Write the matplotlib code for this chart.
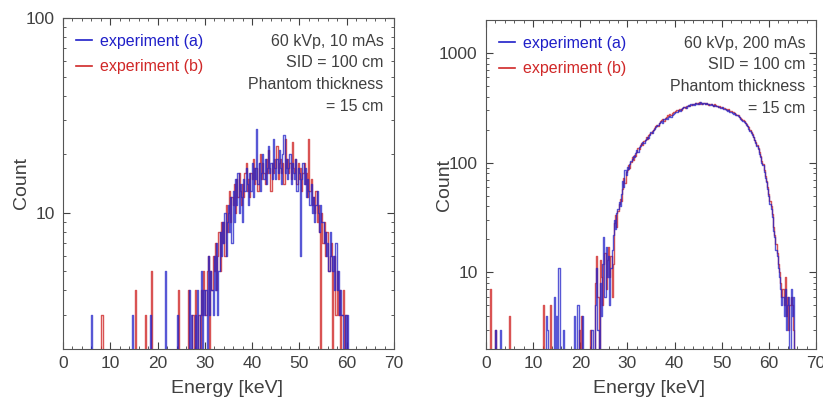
import numpy as np
import matplotlib
matplotlib.use("Agg")
import matplotlib.pyplot as plt
from matplotlib.ticker import MultipleLocator, FuncFormatter, NullFormatter

plt.rcParams['font.family'] = ['Liberation Sans', 'DejaVu Sans']

# energy grid, keV
bin_width = 0.25
e_max = 70.0

# 60 kVp, 10 mAs -- counts per bin starting at 26 keV (4 bins per keV)
low_start = 26.0
low_a = [
    0, 1, 0, 4,   0, 3, 1, 2,   3, 0, 4, 2,   3, 5, 2, 4,
    3, 4, 2, 6,   3, 5, 4, 3,   6, 4, 7, 3,   5, 8, 6, 9,
    7, 10, 6, 9,  11, 8, 12, 7, 13, 9, 15, 11, 16, 10, 14, 12,
    9, 15, 13, 17, 14, 11, 16, 13, 18, 12, 17, 15, 27, 14, 18, 13,
    16, 20, 15, 19, 14, 17, 22, 16, 18, 15, 24, 17, 15, 19, 16, 21,
    17, 14, 20, 25, 16, 19, 15, 17, 20, 14, 18, 16, 15, 19, 13, 17,
    16, 6, 15, 18, 14, 17, 12, 15, 13, 11, 14, 10, 12, 9, 11, 13,
    10, 8, 11, 9, 9, 7, 8, 6,    7, 5, 8, 6,   5, 6, 4, 7,
    4, 5, 3, 4,   3, 2, 0, 3,    2, 3, 0, 0,
]
low_b = [
    1, 0, 4, 0,   2, 0, 3, 1,   4, 2, 0, 3,   2, 4, 3, 5,
    4, 3, 5, 6,   2, 5, 4, 6,   5, 7, 4, 6,   8, 5, 9, 7,
    9, 6, 11, 8,  10, 13, 9, 12, 11, 14, 10, 15, 12, 16, 13, 11,
    14, 12, 16, 18, 13, 15, 12, 16, 15, 19, 14, 17, 17, 13, 18, 20,
    15, 18, 16, 14, 19, 16, 21, 17, 13, 18, 16, 19, 17, 22, 15, 18,
    19, 16, 18, 14, 24, 17, 19, 16, 18, 15, 23, 17, 16, 19, 14, 18,
    15, 17, 13, 16, 18, 14, 16, 12, 24, 13, 15, 11, 12, 10, 13, 9,
    11, 8, 0, 10, 7, 9, 6, 8,    8, 5, 6, 7,   0, 5, 6, 3,
    5, 3, 4, 2,   3, 4, 2, 3,    3, 2, 0, 0,
]
# isolated low-energy counts (energy keV, count)
low_a_spikes = [(6.0, 3), (14.75, 3), (18.5, 3), (21.75, 5), (24.25, 3)]
low_b_spikes = [(8.25, 3), (15.25, 4), (17.5, 3), (18.75, 5), (24.5, 4)]

# 60 kVp, 200 mAs -- counts per bin starting at 22 keV
high_start = 22.0
high_a = [
    0, 0, 3, 0,   0, 5, 11, 3,  0, 8, 4, 12,  21, 6, 17, 9,
    14, 5, 11, 16, 22, 30, 25, 35, 38, 44, 40, 52, 68, 60, 85, 78,
    92, 88, 98, 104, 108, 115, 112, 122, 130, 126, 138, 142, 148, 155, 150, 160,
    165, 172, 168, 180, 190, 186, 198, 205, 212, 218, 222, 230, 236, 240, 232, 248,
    252, 258, 250, 262, 268, 262, 275, 280, 285, 292, 288, 300, 305, 298, 310, 315,
    320, 325, 318, 330, 335, 328, 340, 336, 342, 338, 350, 345, 352, 340, 360, 348,
    345, 350, 342, 352, 340, 345, 336, 342, 335, 330, 338, 326, 328, 320, 325, 318,
    316, 320, 310, 306, 304, 298, 300, 292, 290, 286, 280, 284, 272, 275, 265, 262,
    252, 246, 242, 236, 230, 222, 215, 205, 196, 188, 178, 170, 160, 150, 142, 132,
    120, 112, 100, 96, 82, 72, 66, 58, 50, 42, 38, 32, 24, 21, 16, 14,
    11, 9, 7, 5,  6, 4, 7, 3,   5, 6, 0, 7,   4, 6, 2, 0,
]
high_b = [
    0, 3, 0, 0,   0, 8, 14, 6,  2, 13, 9, 5,  12, 15, 7, 13,
    17, 9, 14, 6, 12, 28, 33, 26, 36, 42, 47, 45, 58, 72, 65, 82,
    86, 95, 90, 102, 112, 106, 118, 115, 125, 135, 132, 145, 150, 146, 158, 162,
    170, 165, 178, 182, 185, 196, 200, 208, 215, 222, 218, 232, 238, 245, 250, 242,
    255, 262, 270, 265, 276, 272, 282, 288, 290, 296, 302, 298, 308, 312, 305, 318,
    322, 318, 328, 332, 330, 338, 334, 342, 345, 340, 348, 352, 346, 355, 350, 344,
    348, 352, 345, 350, 344, 338, 346, 340, 338, 332, 340, 334, 330, 325, 332, 322,
    320, 315, 318, 310, 306, 302, 308, 296, 294, 288, 290, 282, 276, 270, 272, 262,
    255, 250, 244, 240, 232, 226, 218, 210, 200, 192, 182, 172, 162, 155, 145, 136,
    124, 116, 104, 98, 85, 76, 68, 60, 52, 45, 40, 34, 26, 22, 18, 15,
    12, 10, 8, 6, 7, 5, 9, 4,   6, 3, 5, 6,   5, 3, 0, 0,
]
high_a_spikes = [(2.0, 3), (3.0, 3), (12.75, 4), (13.0, 3), (14.5, 6), (15.0, 4),
                 (15.5, 11), (16.5, 3), (18.75, 4), (19.5, 5), (20.5, 4)]
high_b_spikes = [(1.0, 7), (2.0, 3), (5.0, 4), (12.25, 5), (13.75, 5),
                 (19.75, 3), (20.25, 4)]

panel_text = ["60 kVp, 10 mAs\nSID = 100 cm\nPhantom thickness\n= 15 cm",
              "60 kVp, 200 mAs\nSID = 100 cm\nPhantom thickness\n= 15 cm"]

blue = '#1f1fc8'
red = '#d02828'
grey = '#404040'


def spectrum(start, counts, spikes):
    energy = np.arange(0, e_max, bin_width)
    y = np.zeros_like(energy)
    i0 = int(round(start / bin_width))
    y[i0:i0 + len(counts)] = counts
    for e, c in spikes:
        y[int(round(e / bin_width))] = c
    # zero bins drawn below the axis floor
    y = np.where(y > 0, y, 0.5)
    return energy, y


fig = plt.figure(figsize=(8.23, 3.98), dpi=100)
axes = [fig.add_axes([0.0766, 0.1231, 0.4021, 0.8317]),
        fig.add_axes([0.5905, 0.1231, 0.4010, 0.8266])]

sets = [(low_start, low_a, low_b, low_a_spikes, low_b_spikes, (2, 100)),
        (high_start, high_a, high_b, high_a_spikes, high_b_spikes, (2, 2000))]

for ax, (start, ca, cb, sa, sb, ylim), txt in zip(axes, sets, panel_text):
    ea, ya = spectrum(start, ca, sa)
    eb, yb = spectrum(start, cb, sb)
    ax.plot(eb, yb, color=red, lw=1.0, alpha=0.8, drawstyle='steps-mid',
            label='experiment (b)', zorder=2)
    ax.plot(ea, ya, color=blue, lw=1.0, alpha=0.75, drawstyle='steps-mid',
            label='experiment (a)', zorder=3)
    ax.set_yscale('log')
    ax.set_xlim(0, 70)
    ax.set_ylim(*ylim)
    ax.xaxis.set_major_locator(MultipleLocator(10))
    ax.xaxis.set_minor_locator(MultipleLocator(2))
    ax.yaxis.set_major_formatter(FuncFormatter(lambda v, p: f'{v:g}'))
    ax.yaxis.set_minor_formatter(NullFormatter())
    ax.tick_params(which='both', direction='in', top=True, right=True,
                   colors=grey, labelsize=12.5)
    ax.tick_params(axis='x', pad=5)
    ax.tick_params(axis='y', pad=6)
    ax.tick_params(which='major', length=5)
    ax.tick_params(which='minor', length=2.5)
    for s in ax.spines.values():
        s.set_color('#555555')
    ax.set_xlabel('Energy [keV]', fontsize=14, color=grey)
    ax.set_ylabel('Count', fontsize=14, color=grey)
    ax.xaxis.set_label_coords(0.495, -0.093)
    ax.yaxis.set_label_coords(-0.10, 0.5)

    h, l = ax.get_legend_handles_labels()
    leg = ax.legend(h[::-1], l[::-1], loc='upper left', frameon=False,
                    fontsize=11.5, handlelength=1.0, handletextpad=0.5,
                    borderaxespad=0.6, labelspacing=0.65,
                    bbox_to_anchor=(-0.01, 1.0))
    for t, c in zip(leg.get_texts(), [blue, red]):
        t.set_color(c)
    for ln in leg.get_lines():
        ln.set_alpha(1)
        ln.set_linewidth(1.2)

    ax.text(0.968, 0.952, txt, transform=ax.transAxes, ha='right', va='top',
            fontsize=11.5, color=grey, linespacing=1.55)

fig.savefig('out.png', dpi=100)
